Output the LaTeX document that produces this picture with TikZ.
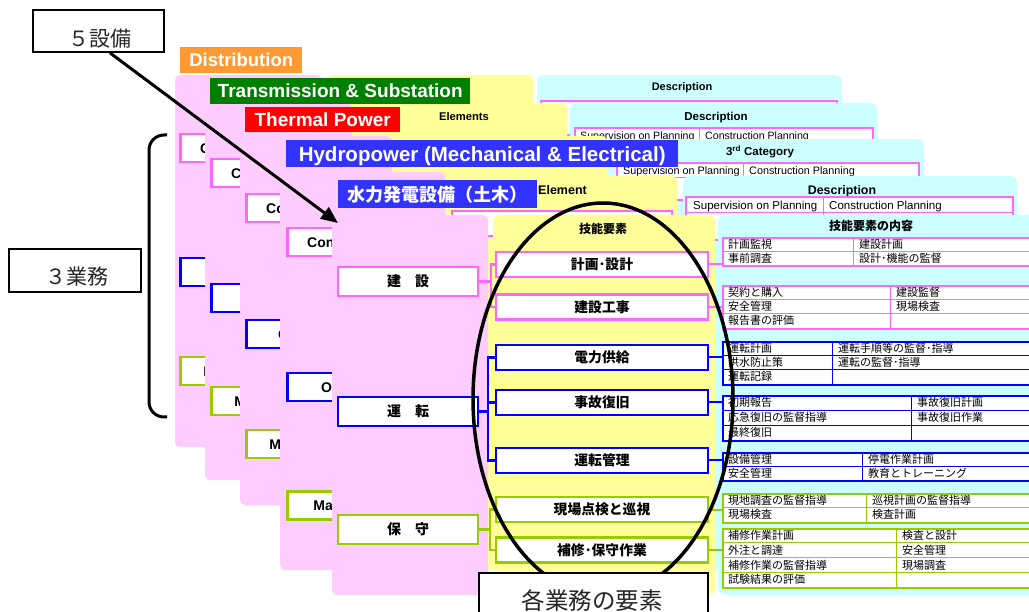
\documentclass[tikz,border=0pt]{standalone}
\usepackage{fontspec}
\setmainfont{Liberation Sans}
\newfontfamily\jp{Noto Sans CJK JP}
\usetikzlibrary{arrows.meta}
\definecolor{pinkbg}{HTML}{FFCCFF}
\definecolor{yelbg}{HTML}{FFFF99}
\definecolor{cyanbg}{HTML}{CCFFFF}
\definecolor{pinkln}{HTML}{FF66FF}
\definecolor{blueln}{HTML}{0000FF}
\definecolor{greenln}{HTML}{99CC00}
\definecolor{orangett}{HTML}{FF9933}
\definecolor{greentt}{HTML}{008000}
\definecolor{redtt}{HTML}{FF0000}
\definecolor{bluett}{HTML}{3333FF}
\newcount\cellno
\newcommand{\tgrp}[6]{% name, color, top, rows, row height, divider x
  \node[grp=#2, minimum height={#4*#5}] (#1) at (722,#3) {};
  \draw[#2, line width=0.8] (#6,#3) -- (#6,{#3+#4*#5});
  \pgfmathtruncatemacro\nlast{#4-1}
  \foreach \k in {1,...,\nlast} \draw[#2, line width=0.8] (722,{#3+\k*#5}) -- (1040,{#3+\k*#5});
}
\newcommand{\trow}[6]{% top, row height, k, divider x, left, right
  \global\advance\cellno by 1
  \node[cell] (cl\the\cellno) at (728,{#1+(#3-0.5)*#2}) {#5};
  \node[cell] (cr\the\cellno) at ({#4+6},{#1+(#3-0.5)*#2}) {#6};
}
\tikzset{
  ttl/.style={anchor=north west, inner sep=0, text=white, text height=13.6, text depth=0, font=\bfseries\fontsize{19}{19}\selectfont},
  catbox/.style={draw=#1, line width=2.5, fill=white, anchor=north west, minimum width=127, minimum height=28, inner sep=0, text height=10, text depth=0, font=\bfseries\fontsize{14}{14}\selectfont},
  elem/.style={draw=#1, line width=2.5, fill=white, minimum width=212, minimum height=25, inner sep=0, text height=11.5, text depth=1, font=\jp\bfseries\fontsize{13.8}{13.8}\selectfont},
  grp/.style={draw=#1, line width=2, fill=white, anchor=north west, minimum width=318, inner sep=0},
  cell/.style={anchor=west, inner sep=0, text height=9.1, text depth=0.8, font=\jp\fontsize{11}{11}\selectfont},
  hdr/.style={inner sep=0, text height=8, text depth=0, font=\bfseries\fontsize{11}{11}\selectfont},
  rowtxt/.style={anchor=west, inner sep=0, text height=7.8, text depth=0, font=\fontsize{10.8}{10.8}\selectfont},
  conn/.style={draw=#1, line width=2.5},
  lbl/.style={draw, line width=1.8, fill=white, inner sep=0},
  lbltxt/.style={inner sep=0, text=black!85, font=\jp\fontsize{21}{21}\selectfont}
}
\begin{document}
\begin{tikzpicture}[x=1pt,y=-1pt]
\useasboundingbox (0,0) rectangle (1029,612);

% ---------- Layer 1 : Distribution
\fill[pinkbg, rounded corners=5] (175,75) rectangle (322,447);
\fill[yelbg, rounded corners=6] (327,75) rectangle (533,447);
\fill[cyanbg, rounded corners=7] (537,75) rectangle (842,447);
\node[hdr] (h1d) at (682,87) {Description};
\draw[pinkln, line width=1.5, fill=white] (541,101) rectangle (837,135);
\node[catbox=pinkln] (a1c) at (179,133) {Construction};
\node[catbox=blueln, minimum width=134] (a1o) at (179,257) {Operation};
\node[catbox=greenln, minimum width=131] (a1m) at (179,356) {Maintenance};
\node[ttl, fill=orangett, minimum width=122, minimum height=26, text height=13.2, font=\bfseries\fontsize{18.5}{18.5}\selectfont] (tD) at (180,47) {Distribution};

% ---------- Layer 2 : Transmission
\fill[pinkbg, rounded corners=5] (205,103) rectangle (352,480);
\fill[yelbg, rounded corners=6] (357,103) rectangle (567,480);
\fill[cyanbg, rounded corners=7] (570,103) rectangle (877,480);
\node[hdr, font=\bfseries\fontsize{11.2}{11.2}\selectfont] (h2e) at (464,117) {Elements};
\node[hdr, font=\bfseries\fontsize{11.5}{11.5}\selectfont] (h2d) at (716,117) {Description};
\draw[pinkln, line width=1.5, fill=white] (575,128) rectangle (873,165);
\draw[pinkln, line width=0.8] (575,143) -- (873,143) (699,128) -- (699,165);
\node[rowtxt, font=\fontsize{10.6}{10.6}\selectfont] (r2a) at (580,136) {Supervision on Planning};
\node[rowtxt, font=\fontsize{10.6}{10.6}\selectfont] (r2b) at (705,136) {Construction Planning};
\node[catbox=pinkln] (a2c) at (210,158) {Construction};
\node[catbox=blueln, minimum width=134] (a2o) at (210,283) {Operation};
\node[catbox=greenln, minimum width=131] (a2m) at (210,386) {Maintenance};
\node[ttl, fill=greentt, minimum width=260, minimum height=26] (tT) at (210,78) {Transmission \& Substation};

% ---------- Layer 3 : Thermal
\fill[pinkbg, rounded corners=5] (240,136) rectangle (392,505);
\fill[yelbg, rounded corners=6] (397,136) rectangle (607,505);
\fill[cyanbg, rounded corners=7] (612,139) rectangle (924,505);
\node[hdr, font=\bfseries\fontsize{11.5}{11.5}\selectfont] (h3c) at (760,152) {3\textsuperscript{rd} Category};
\draw[pinkln, line width=1.5, fill=white] (617,163) rectangle (919,200);
\draw[pinkln, line width=0.8] (617,177.5) -- (919,177.5) (743,163) -- (743,200);
\node[rowtxt] (r3a) at (623,171) {Supervision on Planning};
\node[rowtxt] (r3b) at (749,171) {Construction Planning};
\node[catbox=pinkln] (a3c) at (245,193) {Construction};
\node[catbox=blueln, minimum width=130] (a3o) at (245,319) {Operation};
\node[catbox=greenln, minimum width=131] (a3m) at (245,429) {Maintenance};
\node[ttl, fill=redtt, minimum width=155, minimum height=25] (tTh) at (245,107) {Thermal Power};

% ---------- Layer 4 : Hydropower M&E
\fill[pinkbg, rounded corners=5] (280,172) rectangle (445,570);
\fill[yelbg, rounded corners=6] (450,176) rectangle (677,570);
\fill[cyanbg, rounded corners=7] (683,176) rectangle (1017,570);
\node[hdr, anchor=west, font=\bfseries\fontsize{12.5}{12.5}\selectfont, text height=9] (h4e) at (538,190) {Element};
\node[hdr, font=\bfseries\fontsize{12.4}{12.4}\selectfont, text height=9] (h4d) at (842,190) {Description};
\draw[pinkln, line width=2, fill=white] (686,197) rectangle (1013,240);
\draw[pinkln, line width=0.8] (686,212) -- (1013,212) (823,197) -- (823,240);
\node[rowtxt, font=\fontsize{11.5}{11.5}\selectfont, text height=8.3] (r4a) at (693,205) {Supervision on Planning};
\node[rowtxt, font=\fontsize{11.5}{11.5}\selectfont, text height=8.3] (r4b) at (829,205) {Construction Planning};
\draw[pinkln, line width=2, fill=white] (452,211) rectangle (672,236);
\node[catbox=pinkln] (a4c) at (286,227) {Construction};
\node[catbox=blueln, minimum width=134] (a4o) at (286,372) {Operation};
\node[catbox=greenln, minimum width=137] (a4m) at (286,490) {Maintenance};
\node[ttl, fill=bluett, minimum width=392, minimum height=27, text height=14.7, font=\bfseries\fontsize{20.5}{20.5}\selectfont] (tH) at (286,140) {Hydropower (Mechanical \& Electrical)};

% ---------- Layer 5 : 水力発電設備（土木）
\fill[pinkbg, rounded corners=5] (332,215) rectangle (488,595);
\fill[yelbg, rounded corners=7] (493,215) rectangle (715,595);
\fill[cyanbg, rounded corners=8] (718,215) rectangle (1045,595);
\node[hdr, font=\jp\bfseries\fontsize{12}{12}\selectfont, text height=10, text depth=0.8] (h5e) at (603,229) {技能要素};
\node[hdr, font=\jp\bfseries\fontsize{12}{12}\selectfont, text height=10, text depth=0.8] (h5d) at (871,226) {技能要素の内容};

\node[catbox=pinkln, anchor=center, minimum width=140, minimum height=29, text height=11.6, text depth=1, font=\jp\bfseries\fontsize{14}{14}\selectfont] (c1) at (408,281.5) {建　設};
\node[catbox=blueln, anchor=center, minimum width=140, minimum height=29, text height=11.6, text depth=1, font=\jp\bfseries\fontsize{14}{14}\selectfont] (c2) at (408,411.5) {運　転};
\node[catbox=greenln, anchor=center, minimum width=140, minimum height=29, text height=11.6, text depth=1, font=\jp\bfseries\fontsize{14}{14}\selectfont] (c3) at (408,529.5) {保　守};

\node[elem=pinkln] (e1) at (602,264.5) {計画･設計};
\node[elem=pinkln] (e2) at (602,307) {建設工事};
\node[elem=blueln] (e3) at (602,357.5) {電力供給};
\node[elem=blueln] (e4) at (602,402.5) {事故復旧};
\node[elem=blueln] (e5) at (602,460.5) {運転管理};
\node[elem=greenln] (e6) at (602,509.5) {現場点検と巡視};
\node[elem=greenln] (e7) at (602,550) {補修･保守作業};

\coordinate (jA) at (491,281.5);
\coordinate (jB) at (488,411.5);
\coordinate (jC) at (490,529.5);
\draw[conn=pinkln] (c1.east) -- (jA);
\draw[conn=pinkln] (e1.west) -| (jA);
\draw[conn=pinkln] (e2.west) -| (jA);
\draw[conn=blueln] (c2.east) -- (jB);
\draw[conn=blueln] (e3.west) -| (jB);
\draw[conn=blueln] (e4.west) -| (jB);
\draw[conn=blueln] (e5.west) -| (jB);
\draw[conn=greenln] (c3.east) -- (jC);
\draw[conn=greenln] (e6.west) -| (jC);
\draw[conn=greenln] (e7.west) -| (jC);

% tables
\tgrp{g1}{pinkln}{237}{2}{14}{853}
\trow{237}{14}{1}{853}{計画監視}{建設計画}
\trow{237}{14}{2}{853}{事前調査}{設計･機能の監督}
\tgrp{g2}{pinkln}{285}{3}{14.33}{890}
\trow{285}{14.33}{1}{890}{契約と購入}{建設監督}
\trow{285}{14.33}{2}{890}{安全管理}{現場検査}
\trow{285}{14.33}{3}{890}{報告書の評価}{}
\tgrp{g3}{blueln}{341}{3}{14.33}{832}
\trow{341}{14.33}{1}{832}{運転計画}{運転手順等の監督･指導}
\trow{341}{14.33}{2}{832}{洪水防止策}{運転の監督･指導}
\trow{341}{14.33}{3}{832}{運転記録}{}
\tgrp{g4}{blueln}{395}{3}{15}{911}
\trow{395}{15}{1}{911}{初期報告}{事故復旧計画}
\trow{395}{15}{2}{911}{応急復旧の監督指導}{事故復旧作業}
\trow{395}{15}{3}{911}{最終復旧}{}
\tgrp{g5}{blueln}{452}{2}{14}{862}
\trow{452}{14}{1}{862}{設備管理}{停電作業計画}
\trow{452}{14}{2}{862}{安全管理}{教育とトレーニング}
\tgrp{g6}{greenln}{493}{2}{14.5}{866}
\trow{493}{14.5}{1}{866}{現地調査の監督指導}{巡視計画の監督指導}
\trow{493}{14.5}{2}{866}{現場検査}{検査計画}
\tgrp{g7}{greenln}{528}{4}{14.75}{896}
\trow{528}{14.75}{1}{896}{補修作業計画}{検査と設計}
\trow{528}{14.75}{2}{896}{外注と調達}{安全管理}
\trow{528}{14.75}{3}{896}{補修作業の監督指導}{現場調査}
\trow{528}{14.75}{4}{896}{試験結果の評価}{}

\draw[pinkln, line width=2] (e1.east) -- (e1.east -| g1.west);
\draw[pinkln, line width=2] (e2.east) -- (e2.east -| g2.west);
\draw[blueln, line width=2] (e3.east) -- (e3.east -| g3.west);
\draw[blueln, line width=2] (e4.east) -- (e4.east -| g4.west);
\draw[blueln, line width=2] (e5.east) -- (e5.east -| g5.west);
\draw[greenln, line width=2] (e6.east) -- (e6.east -| g6.west);
\draw[greenln, line width=2] (e7.east) -- (e7.east -| g7.west);

\node[ttl, fill=bluett, minimum width=199, minimum height=28, text height=15, text depth=1.2, font=\jp\bfseries\fontsize{18}{18}\selectfont] (tS) at (338,180) {水力発電設備（土木）};

% ---------- overlays
\draw[line width=3.5] (603,399) ellipse [x radius=130pt, y radius=196pt];
\draw[line width=3, rounded corners=15] (167,135) -- (149,135) -- (149,417) -- (167,417);

\node[lbl, minimum width=131, minimum height=42] (b5) at (98.5,31) {};
\node[lbltxt] (b5t) at (100,39) {５設備};
\node[lbl, minimum width=132, minimum height=43] (b3) at (75,270.5) {};
\node[lbltxt] (b3t) at (77,277) {３業務};
\node[lbl, minimum width=229, minimum height=60, anchor=north west] (bE) at (478,572) {};
\node[lbltxt, font=\jp\fontsize{23.5}{23.5}\selectfont] (bEt) at (592,601) {各業務の要素};

\coordinate (tip) at (338,223);
\draw[line width=3, -{Triangle[length=17pt,width=14pt]}] ([xshift=11.5pt]b5.south) -- (tip);
\end{tikzpicture}
\end{document}
